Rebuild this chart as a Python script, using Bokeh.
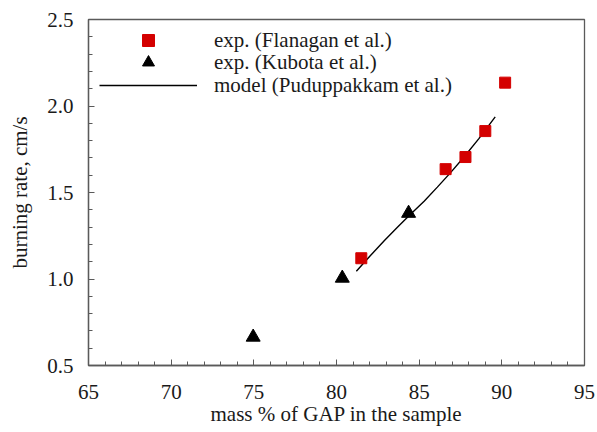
from bokeh.plotting import figure
from bokeh.models import Range1d, Legend, LegendItem, PrintfTickFormatter, FixedTicker
from bokeh.embed import file_html
from bokeh.resources import INLINE

# Data
flanagan_x = [81.5, 86.6, 87.8, 89.0, 90.2]
flanagan_y = [1.12, 1.635, 1.705, 1.855, 2.135]
kubota_x = [74.96, 80.35, 84.36]
kubota_y = [0.664, 1.005, 1.38]
model_x = [81.2, 82.0, 82.9, 83.7, 84.4, 85.3, 86.1, 86.9, 87.7, 88.6, 89.6]
model_y = [1.045, 1.13, 1.223, 1.30, 1.367, 1.45, 1.531, 1.615, 1.704, 1.81, 1.937]

x_ticks = [65, 70, 75, 80, 85, 90, 95]
y_ticks = [0.5, 1.0, 1.5, 2.0, 2.5]
legend_labels = ["exp. (Flanagan et al.)", "exp. (Kubota et al.)", "model (Puduppakkam et al.)"]

FONT = "Liberation Serif"
AX = "#5a5a5a"
TXT = "#1a1a1a"

p = figure(width=597, height=432, output_backend="svg", toolbar_location=None,
           x_range=Range1d(65, 95), y_range=Range1d(0.5, 2.5),
           min_border_left=88, min_border_right=13, min_border_top=19, min_border_bottom=67)
p.xgrid.visible = False
p.ygrid.visible = False
p.outline_line_color = AX
p.outline_line_width = 1.3
p.background_fill_color = "white"
p.border_fill_color = "white"

r_line = p.line(model_x, model_y, line_color="black", line_width=1.4)
r_sq = p.scatter(flanagan_x, flanagan_y, marker="square", size=11, fill_color="#d40000", line_color="#d40000")
r_tr = p.scatter(kubota_x, kubota_y, marker="triangle", size=14, fill_color="black", line_color="black")

for ax in (p.xaxis[0], p.yaxis[0]):
    ax.axis_line_color = AX
    ax.axis_line_width = 1.3
    ax.major_tick_line_color = AX
    ax.minor_tick_line_color = AX
    ax.major_tick_in = 6
    ax.major_tick_out = 0
    ax.minor_tick_in = 4
    ax.minor_tick_out = 0
    ax.major_label_text_font = FONT
    ax.major_label_text_font_size = "21px"
    ax.major_label_text_color = TXT
    ax.axis_label_text_font = FONT
    ax.axis_label_text_font_size = "21px"
    ax.axis_label_text_font_style = "normal"
    ax.axis_label_text_color = TXT

p.xaxis[0].ticker = FixedTicker(ticks=x_ticks, minor_ticks=list(range(65, 96)))
p.yaxis[0].ticker = FixedTicker(ticks=y_ticks, minor_ticks=[round(0.5 + 0.1 * i, 2) for i in range(21)])
p.yaxis[0].formatter = PrintfTickFormatter(format="%.1f")
p.xaxis[0].major_label_standoff = 19
p.yaxis[0].major_label_standoff = 15
p.xaxis[0].axis_label = "mass % of GAP in the sample"
p.yaxis[0].axis_label = "burning rate, cm/s"
p.xaxis[0].axis_label_standoff = 0
p.yaxis[0].axis_label_standoff = 12

for label, rend, ypos in zip(legend_labels, [r_sq, r_tr, r_line], [310, 288, 265]):
    lg = Legend(items=[LegendItem(label=label, renderers=[rend])], location=(11, ypos))
    lg.glyph_width = 98
    lg.glyph_height = 30
    lg.label_height = 20
    lg.spacing = 0
    lg.padding = 0
    lg.margin = 0
    lg.label_standoff = 17
    lg.border_line_color = None
    lg.background_fill_alpha = 0
    lg.label_text_font = FONT
    lg.label_text_font_size = "21px"
    lg.label_text_color = TXT
    p.add_layout(lg, "center")

open("out.html", "w").write(file_html(p, INLINE))
